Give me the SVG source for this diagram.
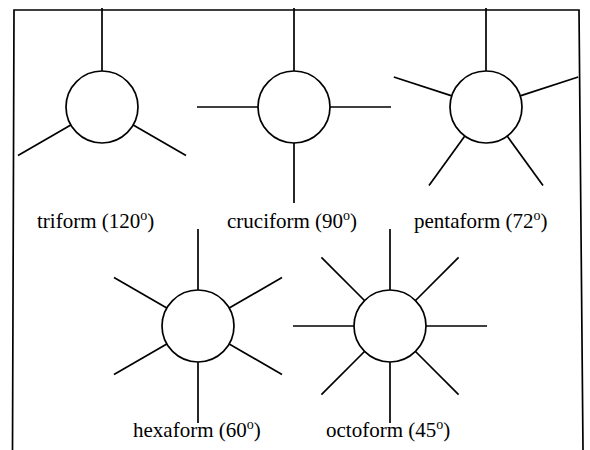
<svg xmlns="http://www.w3.org/2000/svg" width="590" height="450" viewBox="0 0 590 450">
<style>
line,polyline{stroke:#000;stroke-width:1.7;fill:none}
circle{stroke:#000;stroke-width:1.7;fill:#fff}
text{font-family:"Liberation Serif","Times New Roman",serif;font-size:21px;fill:#000}
.sup{font-size:14px}
</style>
<rect width="590" height="450" fill="#fff"/>
<g id="frame">
<polyline points="12.5,450 14,10 579,10 583,450"/>
</g>
<g id="connectors">
<line x1="102" y1="8" x2="102" y2="71"/>
<line x1="70.8" y1="125" x2="18" y2="155.5"/>
<line x1="133.2" y1="125" x2="186" y2="155.5"/>
<line x1="294" y1="8" x2="294" y2="71"/>
<line x1="294" y1="143" x2="294" y2="203"/>
<line x1="197" y1="107" x2="258" y2="107"/>
<line x1="330" y1="107" x2="391" y2="107"/>
<line x1="486" y1="8" x2="486" y2="71"/>
<line x1="451.8" y1="95.9" x2="393.8" y2="77"/>
<line x1="520.2" y1="95.9" x2="578.2" y2="77"/>
<line x1="464.8" y1="136.1" x2="429" y2="185.5"/>
<line x1="507.2" y1="136.1" x2="543" y2="185.5"/>
<line x1="198" y1="229" x2="198" y2="290"/>
<line x1="198" y1="362" x2="198" y2="423"/>
<line x1="166.8" y1="308" x2="114" y2="277.5"/>
<line x1="229.2" y1="308" x2="282" y2="277.5"/>
<line x1="166.8" y1="344" x2="114" y2="374.5"/>
<line x1="229.2" y1="344" x2="282" y2="374.5"/>
<line x1="390" y1="229" x2="390" y2="290"/>
<line x1="390" y1="362" x2="390" y2="423"/>
<line x1="293" y1="326" x2="354" y2="326"/>
<line x1="426" y1="326" x2="487" y2="326"/>
<line x1="364.5" y1="300.5" x2="321.4" y2="257.4"/>
<line x1="415.5" y1="300.5" x2="458.6" y2="257.4"/>
<line x1="364.5" y1="351.5" x2="321.4" y2="394.6"/>
<line x1="415.5" y1="351.5" x2="458.6" y2="394.6"/>
</g>
<g id="triform">
<circle cx="102" cy="107" r="36"/>
<text x="37" y="228">triform (120<tspan class="sup" dy="-8">o</tspan><tspan dy="8">)</tspan></text>
</g>
<g id="cruciform">
<circle cx="294" cy="107" r="36"/>
<text x="227" y="228">cruciform (90<tspan class="sup" dy="-8">o</tspan><tspan dy="8">)</tspan></text>
</g>
<g id="pentaform">
<circle cx="486" cy="107" r="36"/>
<text x="414" y="228">pentaform (72<tspan class="sup" dy="-8">o</tspan><tspan dy="8">)</tspan></text>
</g>
<g id="hexaform">
<circle cx="198" cy="326" r="36"/>
<text x="133" y="437">hexaform (60<tspan class="sup" dy="-8">o</tspan><tspan dy="8">)</tspan></text>
</g>
<g id="octoform">
<circle cx="390" cy="326" r="36"/>
<text x="326" y="437">octoform (45<tspan class="sup" dy="-8">o</tspan><tspan dy="8">)</tspan></text>
</g>
</svg>
